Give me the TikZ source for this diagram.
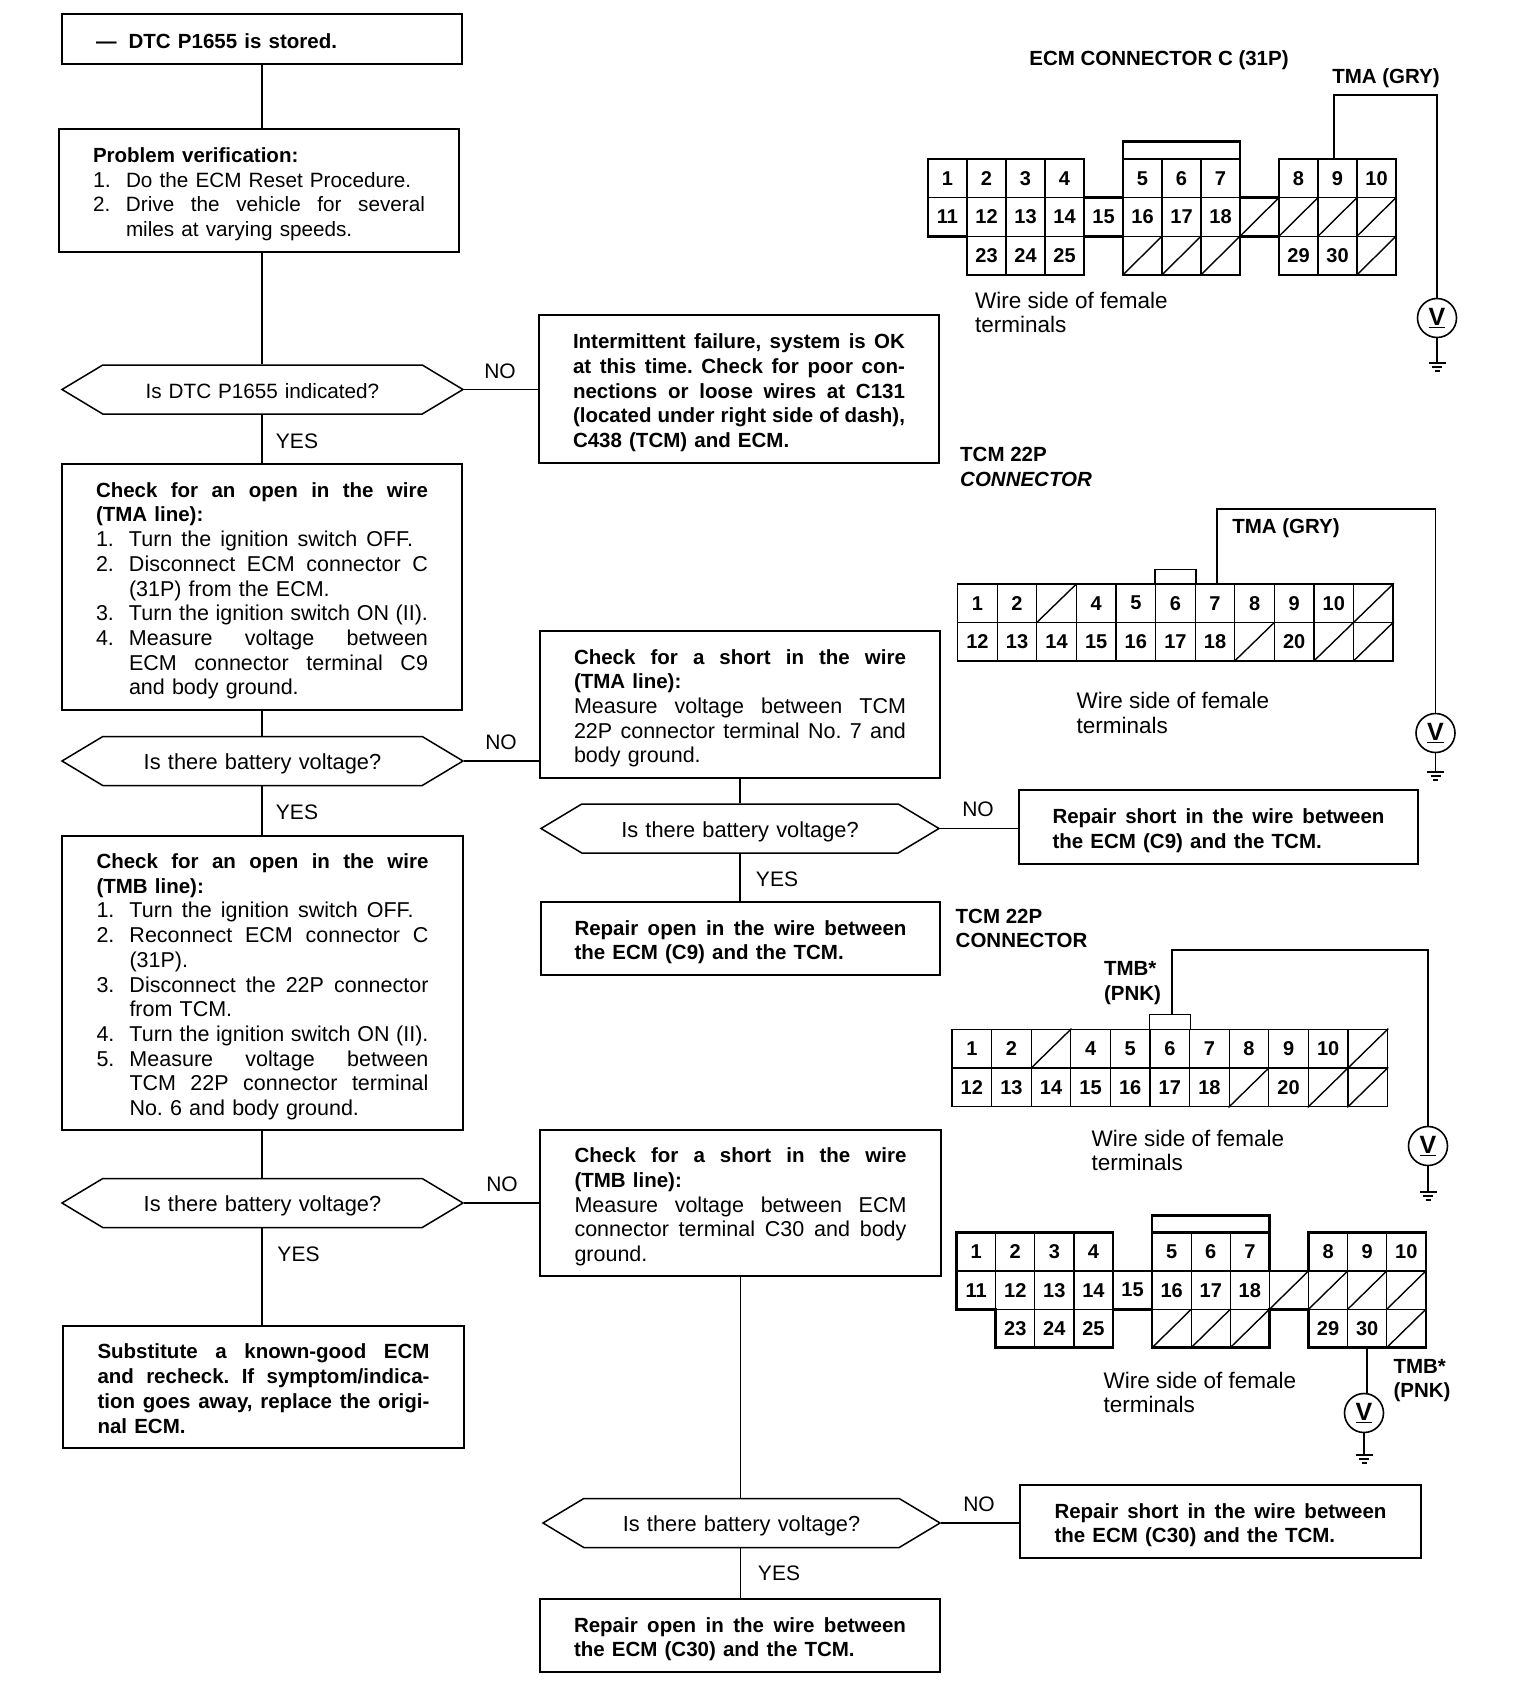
\documentclass[tikz,border=0pt]{standalone}
\usepackage{fontspec}
\setmainfont{Liberation Sans}
\usepackage{tikz}
\usetikzlibrary{shapes.symbols}
\AtBeginDocument{\frenchspacing}
\newcommand{\heavy}{\bfseries\fontsize{20.5}{24.7}\selectfont}
% lines of a box: full width, numbered, stretched to the margin
\newcommand{\fillline}[1]{\makebox[332pt][s]{\spaceskip=0pt\xspaceskip=0pt #1}}
\newcommand{\stepline}[2]{\makebox[33pt][l]{#1}#2}
\newcommand{\fillstep}[3][299pt]{\makebox[33pt][l]{#2}\makebox[#1][s]{\spaceskip=0pt\xspaceskip=0pt #3}}
\newcommand{\contline}[1]{\hspace*{33pt}#1}
\newcommand{\contfill}[1]{\hspace*{33pt}\makebox[299pt][s]{\spaceskip=0pt\xspaceskip=0pt #1}}
% connector cells
\newcommand{\pinrow}[6]{\foreach \c/\t in {#6}{
  \node[pincell, minimum width=#4pt, minimum height=#5pt] (#1-\t) at ({#2+(\c+.5)*#4},{#3+.5*#5}) {\t};}}
\newcommand{\hatchrow}[7]{\foreach \c in {#7}{
  \node[pincell, minimum width=#5pt, minimum height=#6pt] (#1-#2-\c) at ({#3+(\c+.5)*#5},{#4+.5*#6}) {};
  \draw[hatch] (#1-#2-\c.south west) -- (#1-#2-\c.north east);}}
\newcommand{\ecmblock}[5]{
  \pinrow{#1}{#2}{#3}{#4}{#5}{0/1,1/2,2/3,3/4,5/5,6/6,7/7,9/8,10/9,11/10}
  \pinrow{#1}{#2}{#3+#5}{#4}{#5}{0/11,1/12,2/13,3/14,4/15,5/16,6/17,7/18}
  \hatchrow{#1}{b}{#2}{#3+#5}{#4}{#5}{8,9,10,11}
  \pinrow{#1}{#2}{#3+2*#5}{#4}{#5}{1/23,2/24,3/25,9/29,10/30}
  \hatchrow{#1}{c}{#2}{#3+2*#5}{#4}{#5}{5,6,7,11}
  \begin{scope}[shift={(#2,#3)}, x=#4pt, y=-#5pt]
    \draw[shell] (0,0) -- (4,0) -- (4,1) -- (5,1) -- (5,-.45) -- (8,-.45) -- (8,1) -- (9,1)
      -- (9,0) -- (12,0) -- (12,3) -- (9,3) -- (9,2) -- (8,2) -- (8,3) -- (5,3) -- (5,2)
      -- (4,2) -- (4,3) -- (1,3) -- (1,2) -- (0,2) -- cycle;
    \draw[shell] (5,0) -- (8,0);
  \end{scope}}
\newcommand{\tcmblock}[5]{
  \pinrow{#1}{#2}{#3}{#4}{#5}{0/1,1/2,3/4,4/5,5/6,6/7,7/8,8/9,9/10}
  \hatchrow{#1}{a}{#2}{#3}{#4}{#5}{2,10}
  \pinrow{#1}{#2}{#3+#5}{#4}{#5}{0/12,1/13,2/14,3/15,4/16,5/17,6/18,8/20}
  \hatchrow{#1}{b}{#2}{#3+#5}{#4}{#5}{7,9,10}
  \draw[link] (#1-6.north west) -- ++(0,-14) -| (#1-6.north east);
  \draw[link] ({#2},{#3}) rectangle ({#2+11*#4},{#3+2*#5});}
\begin{document}
\begin{tikzpicture}[x=1pt, y=-1pt,
  box/.style={draw, line width=1.5pt, inner sep=0pt, text width=332pt, align=left,
              font=\fontsize{21.5}{24.7}\selectfont,
              execute at begin node={\rule{0pt}{24pt}}, execute at end node={\rule[-6pt]{0pt}{0pt}}},
  hexa/.style={draw, line width=1.5pt, inner sep=0pt, signal, signal to=east and west,
               signal pointer angle=62, minimum height=49pt, text width=280pt, align=center,
               font=\fontsize{21.8}{24.7}\selectfont,
               execute at begin node={\rule{0pt}{23pt}}, execute at end node={\rule[-6pt]{0pt}{0pt}}},
  tag/.style={font=\fontsize{21}{24.7}\selectfont},
  head/.style={font=\heavy, align=left, inner sep=0pt},
  side/.style={font=\fontsize{22.5}{24.7}\selectfont, align=left, anchor=west, inner sep=0pt},
  link/.style={line width=1.5pt},
  wire/.style={line width=2pt},
  hatch/.style={line width=1.4pt},
  shell/.style={line width=2.6pt},
  pincell/.style={draw, line width=1.3pt, inner sep=0pt, font=\bfseries\fontsize{20}{20}\selectfont},
  meter/.style={draw, circle, line width=1.6pt, inner sep=0pt, minimum size=39pt,
                fill=white, font=\bfseries\fontsize{25}{26}\selectfont},
  gnd/.pic={\draw[line width=1.4pt] (-8.5,0) -- (8.5,0) (-5,4) -- (5,4) (-2.5,8) -- (2.5,8);},
]
  \useasboundingbox (0,0) rectangle (1536,1708);

  % left column
  \node[box, minimum width=400pt, minimum height=50pt] (start) at (262,39) {
    {\heavy ---\hspace{5pt} DTC P1655 is stored.}};
  \node[box, minimum width=400pt, minimum height=123pt] (prob) at (259,190.5) {
    {\heavy Problem verification:}\\
    \stepline{1.}{\fontsize{20.7}{24.7}\selectfont Do the ECM Reset Procedure.}\\
    \fillstep{2.}{Drive the vehicle for several}\\
    \contline{miles at varying speeds.}};
  \node[hexa, minimum width=401pt, font=\fontsize{20.7}{24.7}\selectfont] (dtc) at (262.5,389.5) {Is DTC P1655 indicated?};
  \node[box, minimum width=400pt, minimum height=246pt] (chkA) at (262,587) {
    \fillline{\heavy Check for an open in the wire}\\
    {\heavy (TMA line):}\\
    \fillstep[284pt]{1.}{Turn the ignition switch OFF.}\\
    \fillstep{2.}{Disconnect ECM connector C}\\
    \contline{(31P) from the ECM.}\\
    \fillstep{3.}{Turn the ignition switch ON (II).}\\
    \fillstep{4.}{Measure voltage between}\\
    \contfill{ECM connector terminal C9}\\
    \contline{and body ground.}};
  \node[hexa, minimum width=401pt] (volA) at (262.5,761) {Is there battery voltage?};
  \node[box, minimum width=401pt, minimum height=294pt] (chkB) at (262.5,983) {
    \fillline{\heavy Check for an open in the wire}\\
    {\heavy (TMB line):}\\
    \fillstep[284pt]{1.}{Turn the ignition switch OFF.}\\
    \fillstep{2.}{Reconnect ECM connector C}\\
    \contline{(31P).}\\
    \fillstep{3.}{Disconnect the 22P connector}\\
    \contline{from TCM.}\\
    \fillstep{4.}{Turn the ignition switch ON (II).}\\
    \fillstep{5.}{Measure voltage between}\\
    \contfill{TCM 22P connector terminal}\\
    \contline{No. 6 and body ground.}};
  \node[hexa, minimum width=401pt] (volB) at (262.5,1203) {Is there battery voltage?};
  \node[box, minimum width=401pt, minimum height=122pt] (sub) at (263.5,1387) {\heavy
    \fillline{Substitute a known-good ECM}\\
    \fillline{and recheck. If symptom/indica-}\\
    \fillline{tion goes away, replace the origi-}\\
    nal ECM.};

  % middle column
  \node[box, minimum width=400pt, minimum height=148pt] (note) at (739,389) {\heavy
    \fillline{Intermittent failure, system is OK}\\
    \fillline{at this time. Check for poor con-}\\
    \fillline{nections or loose wires at C131}\\
    \fillline{(located under right side of dash),}\\
    C438 (TCM) and ECM.};
  \node[box, minimum width=400pt, minimum height=147pt] (shortA) at (740,704.5) {
    \fillline{\heavy Check for a short in the wire}\\
    {\heavy (TMA line):}\\
    \fillline{Measure voltage between TCM}\\
    \fillline{22P connector terminal No. 7 and}\\
    body ground.};
  \node[hexa, minimum width=398pt] (volC) at (740,828.5) {Is there battery voltage?};
  \node[box, minimum width=399pt, minimum height=73pt] (openA) at (740.5,938.5) {\heavy
    \fillline{Repair open in the wire between}\\
    the ECM (C9) and the TCM.};
  \node[box, minimum width=401pt, minimum height=146pt] (shortB) at (740.5,1203) {
    \fillline{\heavy Check for a short in the wire}\\
    {\heavy (TMB line):}\\
    \fillline{Measure voltage between ECM}\\
    \fillline{connector terminal C30 and body}\\
    ground.};
  \node[hexa, minimum width=397pt] (volD) at (741.5,1523) {Is there battery voltage?};
  \node[box, minimum width=400pt, minimum height=73pt] (openB) at (740,1635.5) {\heavy
    \fillline{Repair open in the wire between}\\
    the ECM (C30) and the TCM.};

  % right column
  \node[box, minimum width=399pt, minimum height=74pt] (fixA) at (1218.5,827) {\heavy
    \fillline{Repair short in the wire between}\\
    the ECM (C9) and the TCM.};
  \node[box, minimum width=401pt, minimum height=73pt] (fixB) at (1220.5,1521.5) {\heavy
    \fillline{Repair short in the wire between}\\
    the ECM (C30) and the TCM.};

  % flow
  \draw[link] (start.south) -- (start.south |- prob.north);
  \foreach \a/\b in {prob/dtc, dtc/chkA, chkA/volA, volA/chkB, chkB/volB, volB/sub}
    \draw[link] (start.south |- \a.south) -- (start.south |- \b.north);
  \draw[link] (shortA.south) -- (shortA.south |- volC.north);
  \draw[link] (shortA.south |- volC.south) -- (shortA.south |- openA.north);
  \draw[link] (shortB.south) -- (shortB.south |- volD.north);
  \draw[link] (shortB.south |- volD.south) -- (shortB.south |- openB.north);
  \draw[link] (dtc.east) -- (dtc.east -| note.west);
  \draw[link] (volA.east) -- (volA.east -| shortA.west);
  \draw[link] (volB.east) -- (volB.east -| shortB.west);
  \draw[link] (volC.east) -- (volC.east -| fixA.west);
  \draw[link] (volD.east) -- (volD.east -| fixB.west);

  \node[tag] (noA) at (500,371) {NO};
  \node[tag] (yesA) at (297,441) {YES};
  \node[tag] (noB) at (501,742) {NO};
  \node[tag] (yesB) at (297,812) {YES};
  \node[tag] (noC) at (502,1184) {NO};
  \node[tag] (yesC) at (298.5,1254) {YES};
  \node[tag] (noD) at (978,809) {NO};
  \node[tag] (yesD) at (777,879) {YES};
  \node[tag] (noE) at (979,1504) {NO};
  \node[tag] (yesE) at (779,1573) {YES};

  % ECM connector, TMA
  \node[head] (ecmA) at (1159,60.5) {ECM CONNECTOR C (31P)};
  \node[head] (tmaA) at (1386,78) {TMA (GRY)};
  \ecmblock{pa}{928}{159}{39}{38.6}
  \node[side] (sideA) at (975,312.5) {Wire side of female\\terminals};
  \node[meter] (va) at (1437,318) {\underline{V}};
  \coordinate (bendA) at (1437,95);
  \coordinate (gndA) at (1437,363);
  \draw[wire] ([xshift=-4pt]pa-9.north) |- (bendA) -- (va.north);
  \draw[link] (va.south) -- (gndA);
  \pic at (gndA) {gnd};

  % TCM connector, TMA
  \node[head, anchor=west] (tcmA) at (960,467) {TCM 22P\\\textit{CONNECTOR}};
  \node[head] (tmaB) at (1286,528.5) {TMA (GRY)};
  \tcmblock{pb}{957.6}{584}{39.6}{38.4}
  \node[side] (sideB) at (1076.5,713) {Wire side of female\\terminals};
  \node[meter] (vb) at (1435.5,733) {\underline{V}};
  \coordinate (bendB) at (1435.5,509);
  \coordinate (gndB) at (1435.5,772);
  \draw[link] ([xshift=2pt]pb-7.north) |- (bendB) -- (vb.north);
  \draw[link] (vb.south) -- (gndB);
  \pic at (gndB) {gnd};

  % TCM connector, TMB
  \node[head, anchor=west] (tcmB) at (955.5,928.5) {TCM 22P\\CONNECTOR};
  \node[head] (tmbA) at (1132.5,983) {TMB*\\(PNK)};
  \tcmblock{pc}{952}{1029.3}{39.6}{38.7}
  \node[side] (sideC) at (1091.5,1150.5) {Wire side of female\\terminals};
  \node[meter] (vc) at (1428,1146) {\underline{V}};
  \coordinate (bendC) at (1428,950);
  \coordinate (gndC) at (1428,1192);
  \coordinate (tapC) at (1172,1015);
  \draw[wire] (tapC) |- (bendC) -- (vc.north);
  \draw[link] (vc.south) -- (gndC);
  \pic at (gndC) {gnd};

  % ECM connector, TMB
  \ecmblock{pd}{956.6}{1232.7}{39.1}{38.3}
  \node[side] (sideD) at (1103.5,1392.5) {Wire side of female\\terminals};
  \node[head] (tmbB) at (1422,1380.5) {TMB*\\(PNK)};
  \node[meter] (vd) at (1364,1413) {\underline{V}};
  \coordinate (gndD) at (1364,1455);
  \draw[wire] (pd-30.south) -- (pd-30.south |- vd.north);
  \draw[link] (vd.south) -- (gndD);
  \pic at (gndD) {gnd};
\end{tikzpicture}
\end{document}
